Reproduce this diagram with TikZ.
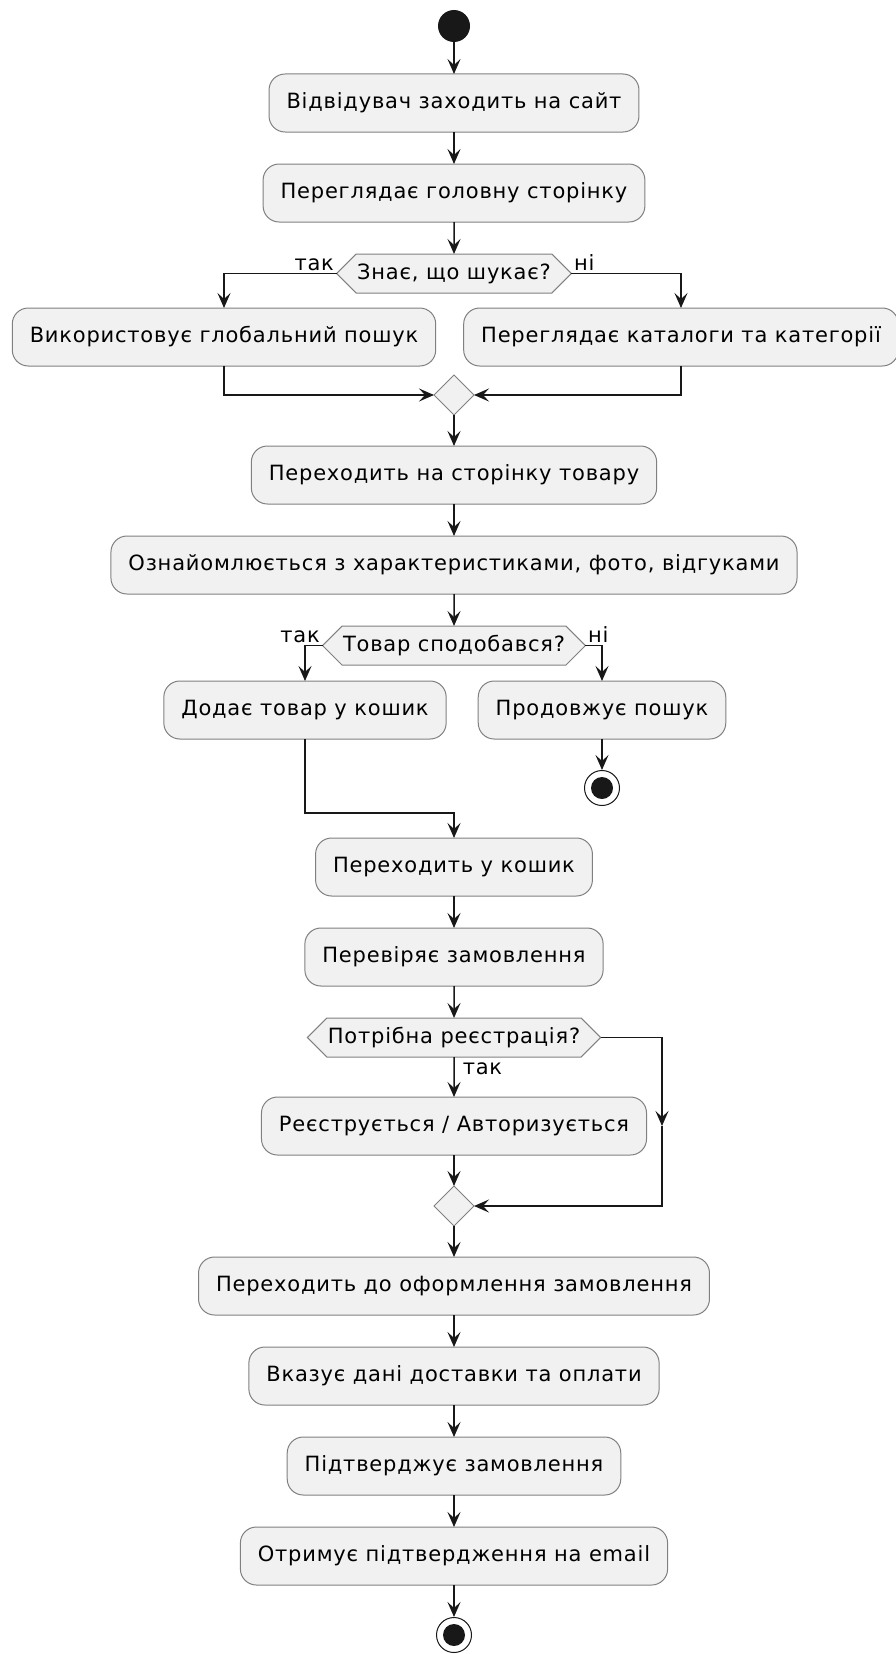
\documentclass[tikz,border=0pt]{standalone}
\usepackage{fontspec}
\setmainfont[LetterSpace=3.8]{DejaVu Sans}
\usetikzlibrary{arrows.meta,positioning,shapes.geometric,shapes.symbols}

\definecolor{linecol}{HTML}{181818}
\definecolor{edgecol}{HTML}{808080}
\definecolor{boxfill}{HTML}{F1F1F1}

\begin{document}
\begin{tikzpicture}[x=1pt, y=1pt, node distance=32pt,
    every node/.style={font=\fontsize{21}{25}\selectfont},
    act/.style={draw=edgecol, fill=boxfill, line width=1pt, rounded corners=16pt, minimum height=58pt, inner xsep=17.5pt, outer sep=0pt},
    ask/.style={draw=edgecol, fill=boxfill, line width=1pt, signal, signal to=west and east, signal pointer angle=90, minimum height=39pt, inner xsep=1pt, outer sep=0pt},
    merge/.style={draw=edgecol, fill=boxfill, line width=1pt, diamond, minimum size=40pt, inner sep=0pt, outer sep=0pt},
    startdot/.style={circle, fill=linecol, minimum size=32pt, inner sep=0pt, outer sep=0pt},
    stopdot/.style={circle, draw=linecol, fill=white, line width=1pt, minimum size=35pt, inner sep=0pt, path picture={\fill[linecol] (path picture bounding box.center) circle (11pt);}},
    arr/.style={-{Stealth[length=15pt, width=13pt, inset=6pt]}, line width=1.5pt, draw=linecol},
    lbl/.style={inner sep=2pt}]
    \useasboundingbox (0,0) rectangle (895,-1654);
    \node[startdot] (start) at (454,-26) {};
    \node[act, below=of start] (visit) {Відвідувач заходить на сайт};
    \node[act, below=of visit] (home) {Переглядає головну сторінку};
    \node[ask, below=of home] (know) {Знає, що шукає?};
    \node[act] (search) at (224,-337) {Використовує глобальний пошук};
    \node[act] (browse) at (681,-337) {Переглядає каталоги та категорії};
    \node[merge] (merge1) at (454,-395) {};
    \node[act, below=31pt of merge1] (product) {Переходить на сторінку товару};
    \node[act, below=of product] (details) {Ознайомлюється з характеристиками, фото, відгуками};
    \node[ask, below=of details] (liked) {Товар сподобався?};
    \node[act] (addcart) at (305,-710) {Додає товар у кошик};
    \node[act] (goon) at (602,-710) {Продовжує пошук};
    \node[stopdot] (stop1) at (602,-788) {};
    \node[act] (cart) at (454,-867) {Переходить у кошик};
    \node[act, below=of cart] (check) {Перевіряє замовлення};
    \node[ask, below=of check] (reg) {Потрібна реєстрація?};
    \node[act, below=40pt of reg] (login) {Реєструється / Авторизується};
    \node[merge, below=31pt of login] (merge2) {};
    \node[act, below=31pt of merge2] (checkout) {Переходить до оформлення замовлення};
    \node[act, below=of checkout] (delivery) {Вказує дані доставки та оплати};
    \node[act, below=of delivery] (confirm) {Підтверджує замовлення};
    \node[act, below=of confirm] (email) {Отримує підтвердження на email};
    \node[stopdot, below=of email] (stop2) {};
    \coordinate (bend) at (454,-813);
    \coordinate (side) at (662,-1126);
    \draw[arr] (start) -- (visit);
    \draw[arr] (visit) -- (home);
    \draw[arr] (home) -- (know);
    \draw[arr] (know.west) -| node[lbl, pos=0, anchor=south east] {так} (search.north);
    \draw[arr] (know.east) -| node[lbl, pos=0, anchor=south west] {ні} (browse.north);
    \draw[arr] (search.south) |- (merge1.west);
    \draw[arr] (browse.south) |- (merge1.east);
    \draw[arr] (merge1) -- (product);
    \draw[arr] (product) -- (details);
    \draw[arr] (details) -- (liked);
    \draw[arr] (liked.west) -| node[lbl, pos=0, anchor=south east] {так} (addcart.north);
    \draw[arr] (liked.east) -| node[lbl, pos=0, anchor=south west] {ні} (goon.north);
    \draw[arr] (goon) -- (stop1);
    \draw[arr] (addcart.south) |- (bend) -- (cart.north);
    \draw[arr] (cart) -- (check);
    \draw[arr] (check) -- (reg);
    \draw[arr] (reg) -- node[lbl, pos=0, anchor=north west, xshift=6pt, yshift=-3pt] {так} (login);
    \draw[arr] (reg.east) -| (side);
    \draw[arr] (side) |- (merge2.east);
    \draw[arr] (login) -- (merge2);
    \draw[arr] (merge2) -- (checkout);
    \draw[arr] (checkout) -- (delivery);
    \draw[arr] (delivery) -- (confirm);
    \draw[arr] (confirm) -- (email);
    \draw[arr] (email) -- (stop2);
  \end{tikzpicture}
\end{document}
